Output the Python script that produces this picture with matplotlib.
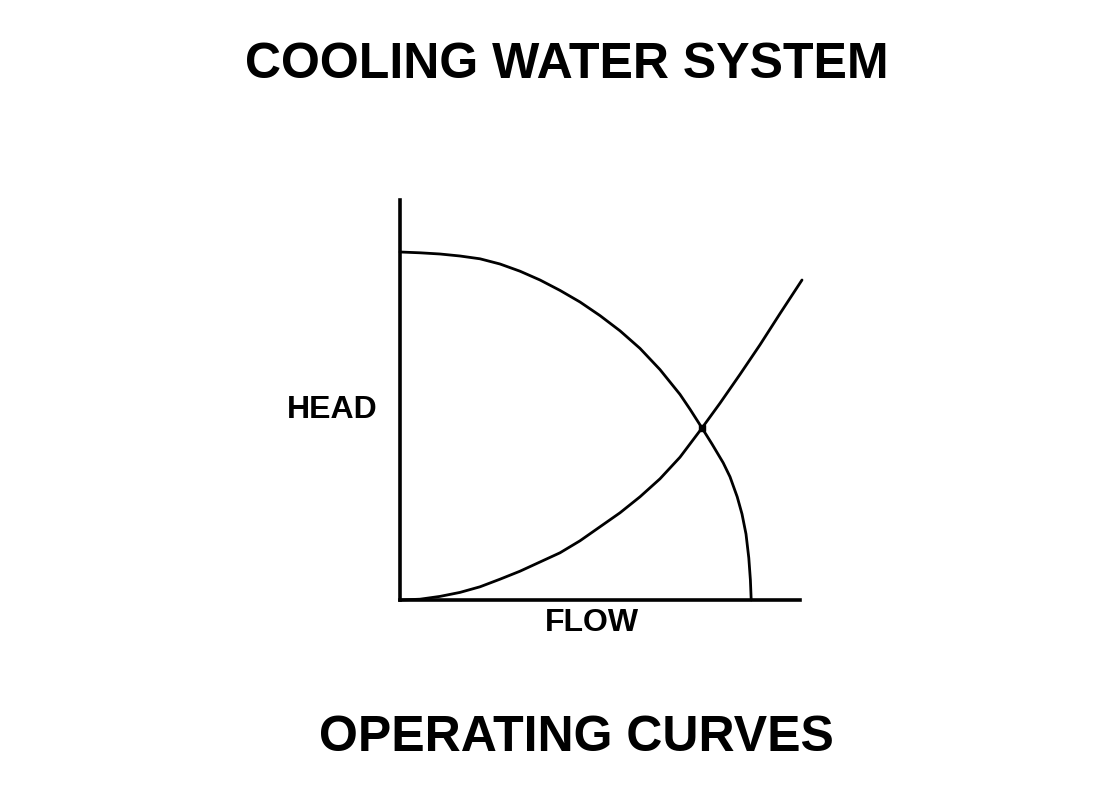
import numpy as np
import matplotlib
matplotlib.use("Agg")
import matplotlib.pyplot as plt

plt.rcParams["font.family"] = ["Liberation Sans", "DejaVu Sans"]

# pump curve (head falls as flow rises)
pump_flow = [0, 0.5, 1.0, 1.5, 2.0, 2.5, 3.0, 3.5, 4.0, 4.5, 5.0, 5.5, 6.0, 6.5,
             7.0, 7.25, 7.55, 7.8, 8.08, 8.25, 8.43, 8.55, 8.65, 8.72, 8.76, 8.78]
pump_head = [8.70, 8.68, 8.65, 8.60, 8.53, 8.40, 8.22, 8.00, 7.74, 7.45, 7.11, 6.73, 6.29, 5.76,
             5.14, 4.77, 4.30, 3.90, 3.43, 3.08, 2.58, 2.15, 1.65, 1.05, 0.50, 0.0]

# system curve (head rises with flow)
sys_flow = [0, 0.5, 1.0, 1.5, 2.0, 2.5, 3.0, 3.5, 4.0, 4.5, 5.0, 5.5, 6.0, 6.5,
            7.0, 7.55, 8.0, 8.5, 9.0, 9.5, 10.05]
sys_head = [0, 0.02, 0.09, 0.19, 0.33, 0.52, 0.72, 0.95, 1.18, 1.48, 1.83, 2.18, 2.58, 3.03,
            3.57, 4.30, 4.92, 5.64, 6.38, 7.16, 8.0]

# operating point
op_flow = 7.55
op_head = 4.3

fig = plt.figure(figsize=(11.07, 7.89), dpi=100)
ax = fig.add_axes([400 / 1107, 1 - 600 / 789, 400 / 1107, 400 / 789])

ax.plot(pump_flow, pump_head, color="black", lw=2.0, clip_on=False,
        solid_capstyle="round", solid_joinstyle="round")
ax.plot(sys_flow, sys_head, color="black", lw=2.0, clip_on=False,
        solid_capstyle="round", solid_joinstyle="round")
ax.plot([op_flow], [op_head], "s", color="black", ms=5, clip_on=False)

ax.set_xlim(0, 10)
ax.set_ylim(0, 10)
for s in ["top", "right"]:
    ax.spines[s].set_visible(False)
for s in ["left", "bottom"]:
    ax.spines[s].set_linewidth(2.6)
ax.set_xticks([])
ax.set_yticks([])

fig.text(567 / 1107, 1 - 65 / 789, "COOLING WATER SYSTEM", ha="center", va="center",
         fontsize=36, fontweight="bold")
fig.text(576 / 1107, 1 - 738 / 789, "OPERATING CURVES", ha="center", va="center",
         fontsize=36, fontweight="bold")
fig.text(332 / 1107, 1 - 410 / 789, "HEAD", ha="center", va="center",
         fontsize=23, fontweight="bold")
fig.text(592 / 1107, 1 - 623 / 789, "FLOW", ha="center", va="center",
         fontsize=23, fontweight="bold")

fig.savefig("out.png", dpi=100, facecolor="white")
